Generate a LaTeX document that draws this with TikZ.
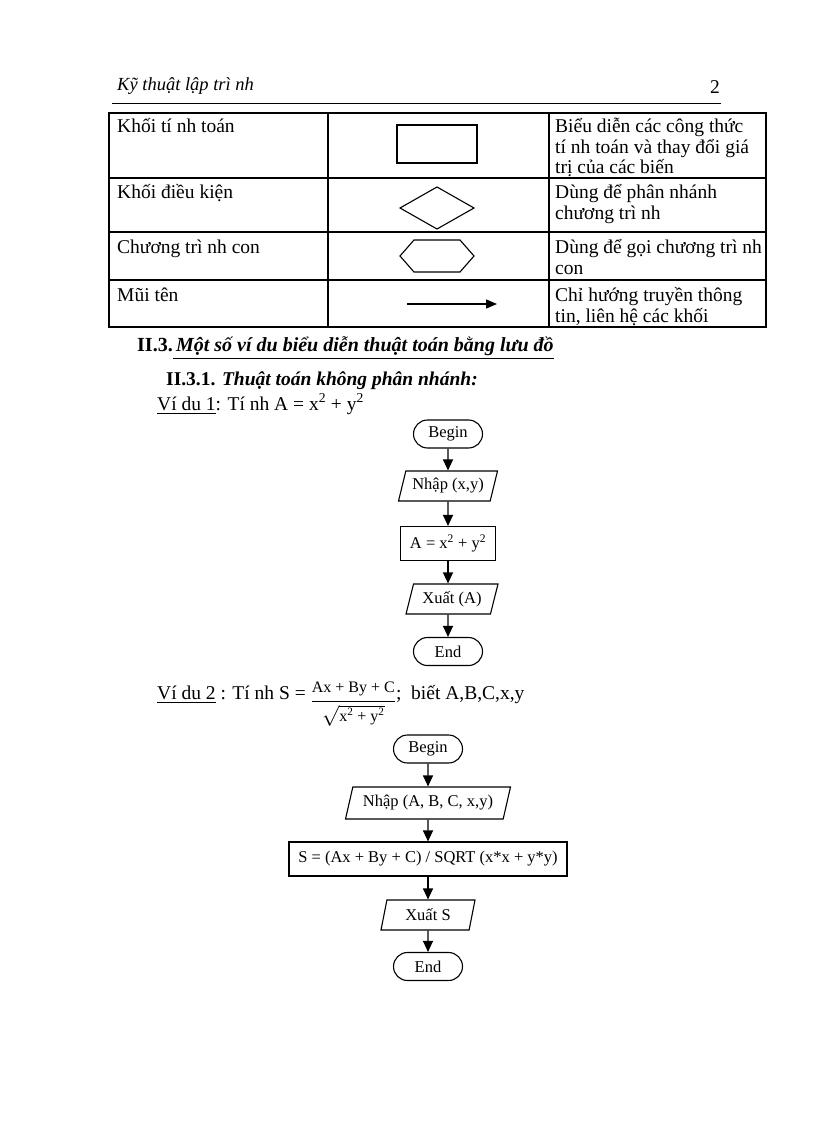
\documentclass[tikz,border=0pt]{standalone}
\usepackage{fontspec}
\setmainfont{Liberation Serif}
\usepackage{amsmath}
\usetikzlibrary{shapes.geometric,shapes.misc,arrows.meta}
\begin{document}
\begin{tikzpicture}[x=1pt,y=-1pt,
  txt/.style={font=\fontsize{19.5}{21}\selectfont, inner sep=0pt, anchor=base west},
  fcbox/.style={draw, line width=1.1pt, inner sep=0pt, font=\fontsize{16.5}{20}\selectfont},
  term/.style={fcbox, rounded rectangle, minimum width=69pt, minimum height=28pt},
  iobox/.style={fcbox, trapezium, trapezium left angle=64, trapezium right angle=116, trapezium stretches body, minimum width=#1, minimum height=30pt},
  proc/.style={fcbox, rectangle, minimum width=#1, minimum height=34pt},
  fcarrow/.style={line width=1.1pt, -{Triangle[length=11pt,width=10pt]}},
  tablerule/.style={line width=1.3pt},
  symline/.style={line width=1.1pt}
]
\fill[white] (0,0) rectangle (816,1123);
\path[use as bounding box] (0,0) rectangle (816,1123);

% header
\node[txt, font=\fontsize{18.5}{21}\selectfont\itshape] (hdr) at (117,91) {Kỹ thuật lập trì nh};
\node[txt, anchor=base east] (pg) at (720,94) {2};
\draw[line width=0.9pt] (112,103) -- (721,103);

% table
\draw[tablerule] (109,113) rectangle (766,327);
\draw[tablerule] (328,113) -- (328,327);
\draw[tablerule] (549,113) -- (549,327);
\draw[tablerule] (109,178) -- (766,178);
\draw[tablerule] (109,232) -- (766,232);
\draw[tablerule] (109,280) -- (766,280);

\node[txt] (r1a) at (117,133) {Khối tí nh toán};
\node[txt] (r1c1) at (555,133) {Biểu diễn các công thức};
\node[txt] (r1c2) at (555,153.5) {tí nh toán và thay đổi giá};
\node[txt] (r1c3) at (555,174) {trị của các biến};
\draw[symline] (397,125) rectangle (477,163);

\node[txt] (r2a) at (117,199) {Khối điều kiện};
\node[txt] (r2c1) at (555,199) {Dùng để phân nhánh};
\node[txt] (r2c2) at (555,220) {chương trì nh};
\draw[symline] (400,208) -- (437,187) -- (474,208) -- (437,229) -- cycle;

\node[txt] (r3a) at (117,253) {Chương trì nh con};
\node[txt] (r3c1) at (555,253) {Dùng để gọi chương trì nh};
\node[txt] (r3c2) at (555,274) {con};
\draw[symline] (400,256) -- (414,240) -- (460,240) -- (474,256) -- (460,272) -- (414,272) -- cycle;

\node[txt] (r4a) at (117,301) {Mũi tên};
\node[txt] (r4c1) at (555,301) {Chỉ  hướng truyền thông};
\node[txt] (r4c2) at (555,322) {tin, liên hệ các khối};
\draw[line width=1.3pt, -{Triangle[length=11pt,width=9pt]}] (407,304) -- (497,304);

% section headings
\node[txt, font=\fontsize{20}{22}\selectfont] (sec) at (137,351) {\textbf{II.3.}\underline{\textbf{\textit{\,Một số ví  du biểu diễn thuật toán bằng lưu đồ}}}};
\node[txt] (sub) at (166,385) {\textbf{II.3.1.} \textbf{\textit{Thuật toán không phân nhánh:}}};
\node[txt] (ex1) at (157,410) {\underline{Ví  du 1}: Tí nh A = x\textsuperscript{2} + y\textsuperscript{2}};

% flowchart 1
\node[term] (b1) at (448,434) {Begin};
\node[iobox=99pt] (n1) at (448,486) {Nhập (x,y)};
\node[proc=95pt] (a1) at (448,543.5) {A = x\textsuperscript{2} + y\textsuperscript{2}};
\node[iobox=92pt] (o1) at (452,599) {Xuất (A)};
\node[term] (e1) at (448,651.5) {End};
\draw[fcarrow] (b1) -- (n1);
\draw[fcarrow] (n1) -- (a1);
\draw[fcarrow] (a1.south) -- (a1.south |- o1.north);
\draw[fcarrow] (o1.south -| e1.north) -- (e1);

% example 2
\node[txt] (ex2) at (157,699) {\underline{Ví  du 2} : Tí nh S = \raisebox{-8pt}{\(\dfrac{\text{\fontsize{16}{18}\selectfont Ax + By + C}}{\sqrt{\text{\fontsize{16}{18}\selectfont x\textsuperscript{2} + y\textsuperscript{2}}}}\)};\ \ biết A,B,C,x,y};

% flowchart 2
\node[term] (b2) at (428,749) {Begin};
\node[iobox=165pt, minimum height=32pt] (n2) at (428,803) {Nhập (A, B, C, x,y)};
\node[proc=278pt] (s2) at (428,859) {S = (Ax + By + C) / SQRT (x*x + y*y)};
\node[iobox=94pt] (o2) at (428,915) {Xuất S};
\node[term] (e2) at (428,966.5) {End};
\draw[fcarrow] (b2) -- (n2);
\draw[fcarrow] (n2) -- (s2);
\draw[fcarrow] (s2) -- (o2);
\draw[fcarrow] (o2) -- (e2);
\end{tikzpicture}
\end{document}
